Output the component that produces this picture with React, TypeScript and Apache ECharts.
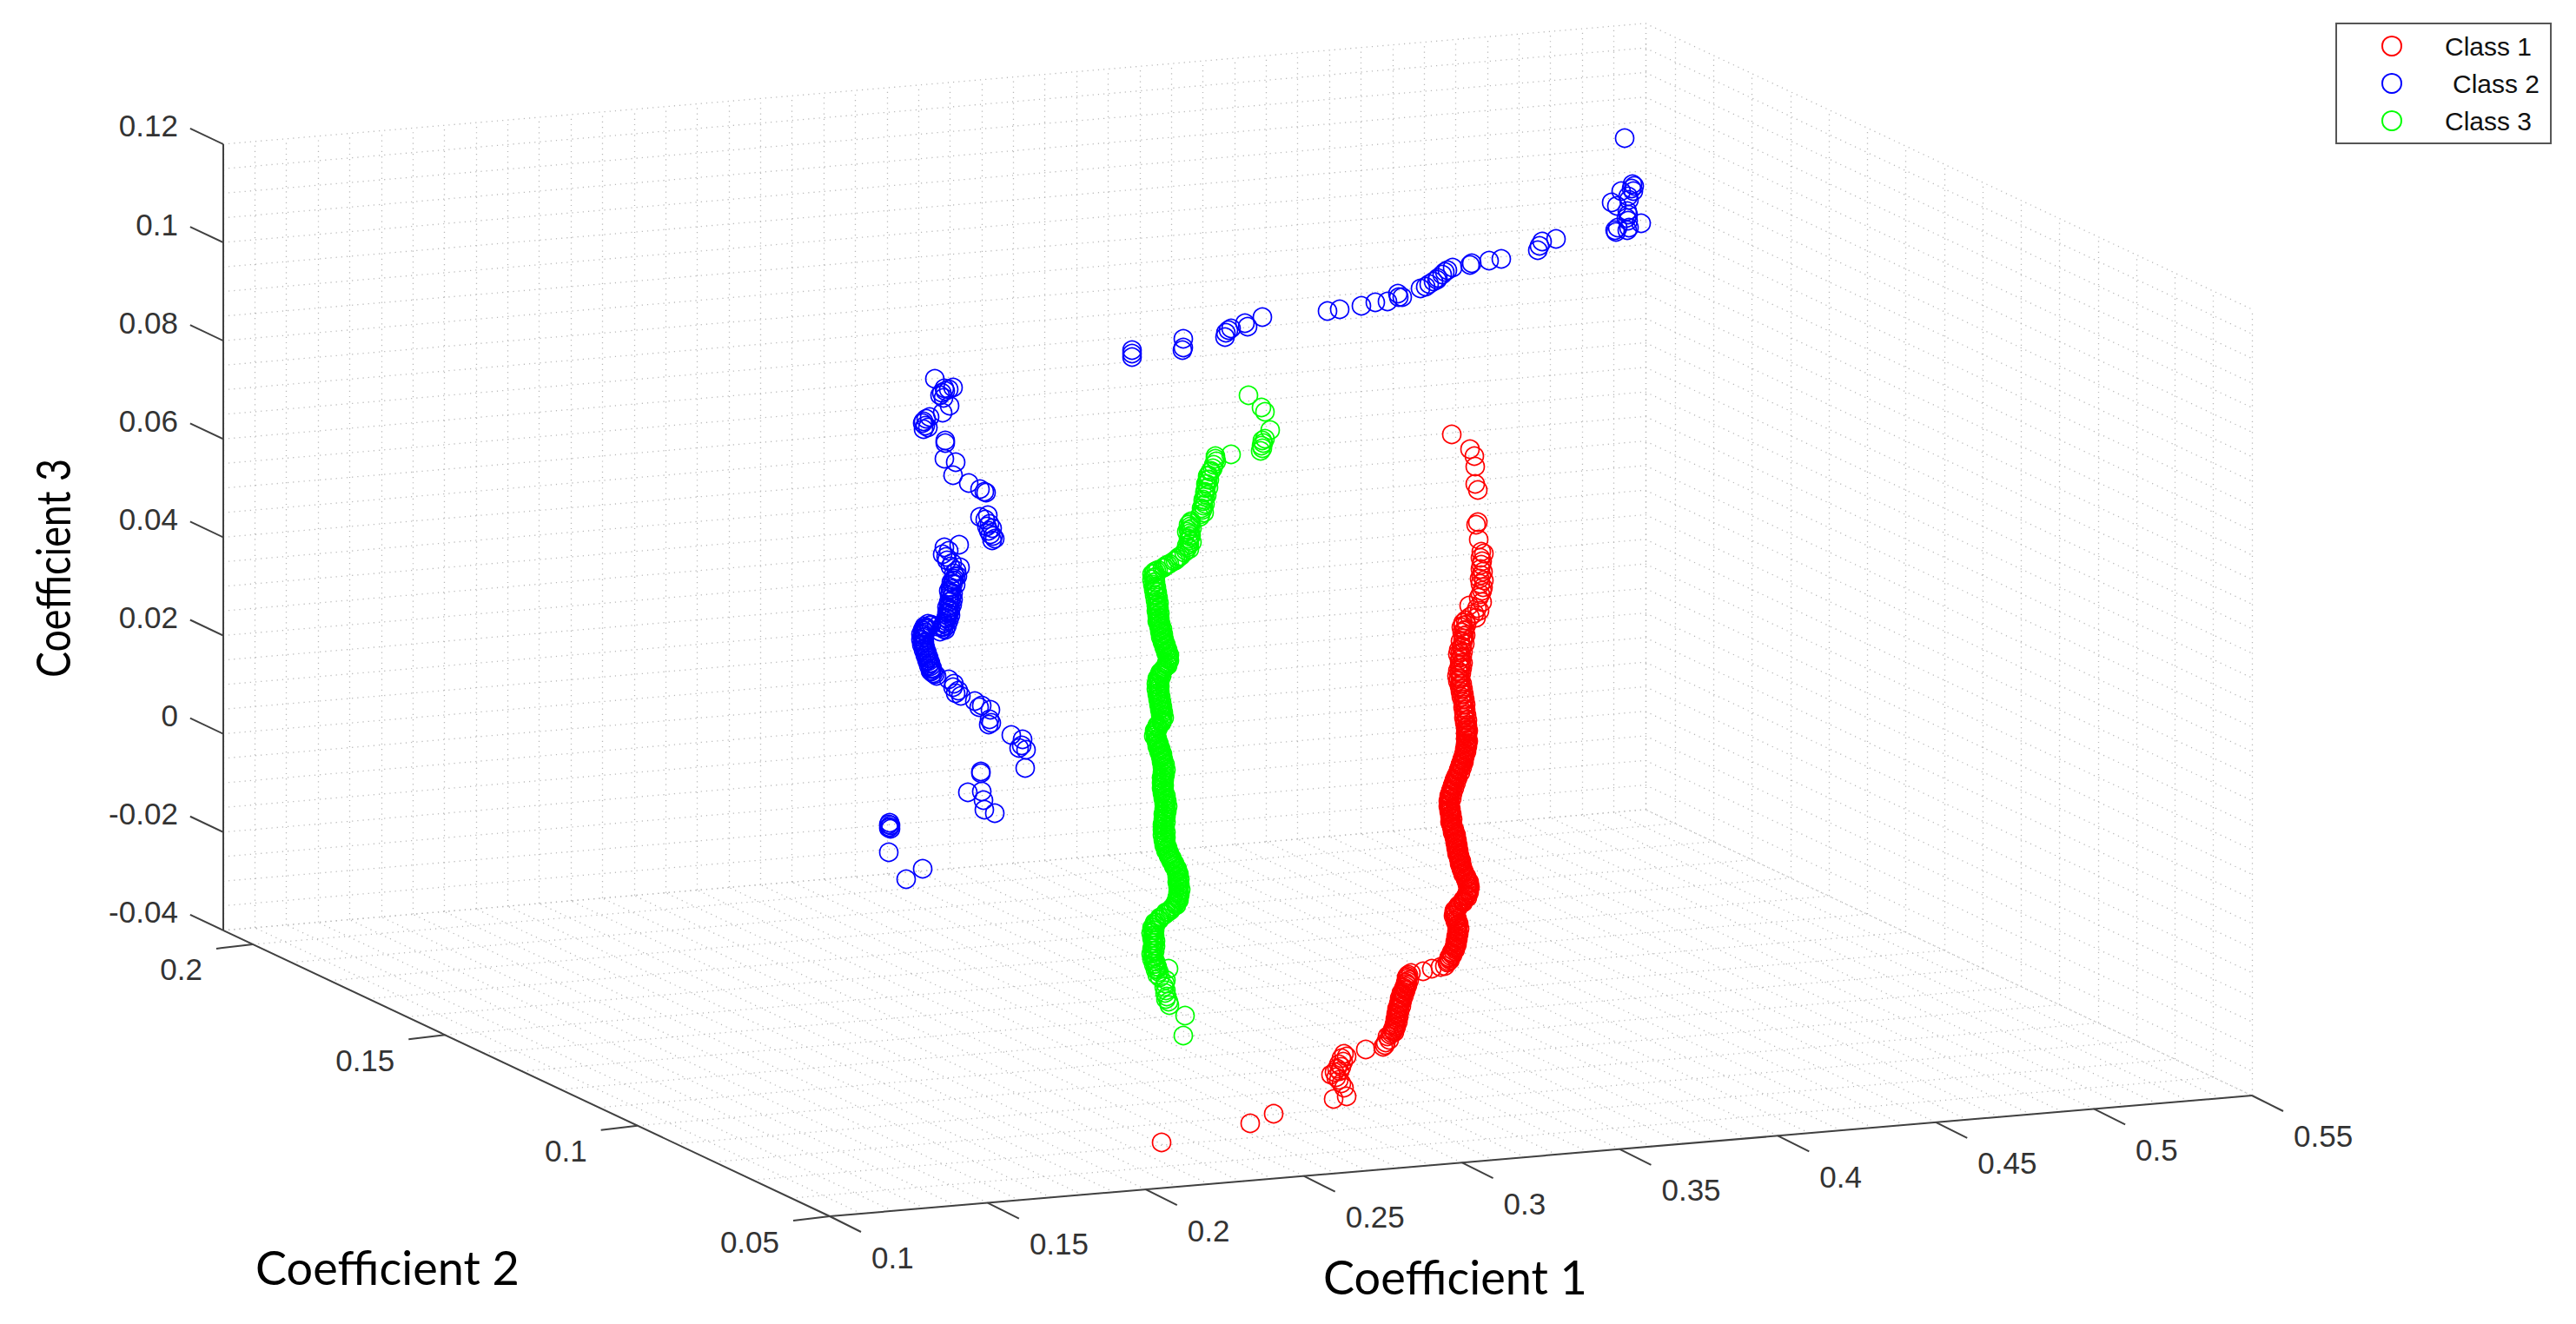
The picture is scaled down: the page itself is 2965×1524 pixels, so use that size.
import React, { useEffect, useRef } from "react";
import * as echarts from "echarts";

// Axis tick values of the three coefficients
const coef1Ticks = [0.1, 0.15, 0.2, 0.25, 0.3, 0.35, 0.4, 0.45, 0.5, 0.55];
const coef2Ticks = [0.05, 0.1, 0.15, 0.2];
const coef3Ticks = [-0.04, -0.02, 0, 0.02, 0.04, 0.06, 0.08, 0.1, 0.12];
const coefNames = ["Coefficient 1", "Coefficient 2", "Coefficient 3"];
const classNames = ["Class 1", "Class 2", "Class 3"];

// Points, in the view plane of the 3-D projection
const class1Points = [
  [1671,500],[1692,517],[1697,525],[1698,537],[1698,557],[1701,564],[1701,601],[1699,604],[1702,621],[1705,635],[1708,637],[1704,642],[1706,646],[1705,650],[1704,655],[1707,658],[1705,662],[1703,666],[1708,668],[1704,672],[1707,676],[1706,680],[1704,684],[1702,688],[1691,697],[1706,693],[1700,700],[1703,703],[1697,706],[1692,710],[1699,711],[1687,714],
  [1684,717],[1688,719],[1682,722],[1686,725],[1683,728],[1687,731],[1684,735],[1681,738],[1686,741],[1683,744],[1679,748],[1684,750],[1678,753],[1683,756],[1680,760],[1684,763],[1680,766],[1683,769],[1678,772],[1682,775],[1677,778],[1681,781],[1678,784],[1683,787],[1680,790],[1684,793],[1681,796],[1685,799],[1682,802],[1686,805],[1684,808],[1687,811],[1684,814],[1687,817],[1685,820],[1688,823],[1685,826],[1689,829],[1686,832],
  [1689,835],[1687,838],[1690,841],[1687,844],[1689,847],[1687,850],[1690,853],[1687,856],[1689,859],[1686,862],[1688,865],[1685,868],[1686,871],[1683,874],[1685,877],[1681,880],[1683,883],[1679,886],[1681,889],[1677,892],[1678,895],[1674,898],[1676,901],[1672,904],[1674,907],[1670,910],[1672,913],[1668,916],[1671,919],[1667,922],[1669,925],[1667,928],[1670,931],[1668,934],[1671,937],[1669,940],[1672,943],[1669,946],[1672,949],[1671,952],[1674,955],[1672,958],[1676,961],[1674,964],[1677,967],[1675,970],[1678,973],[1676,976],[1679,979],[1677,982],[1680,985],[1679,988],[1682,991],[1680,994],[1683,997],[1682,1000],[1685,1003],[1684,1006],[1688,1009],[1687,1012],[1691,1015],[1689,1018],[1692,1021],[1690,1024],[1691,1027],[1688,1030],[1689,1033],[1684,1036],[1684,1039],[1679,1042],[1678,1045],[1674,1048],[1675,1051],[1673,1054],[1677,1057],[1675,1060],[1679,1063],[1677,1066],[1680,1069],[1677,1072],[1679,1075],[1676,1078],[1678,1081],[1675,1084],[1677,1087],[1674,1090],[1675,1093],[1671,1096],[1672,1099],[1668,1102],[1669,1105],[1666,1108],
  [1663,1112],[1658,1113],[1648,1115],[1638,1118],[1624,1120],[1621,1122],[1619,1125],[1622,1128],[1618,1131],[1620,1134],[1616,1137],[1618,1140],[1613,1143],[1616,1146],[1611,1149],[1614,1152],[1610,1155],[1613,1158],[1608,1161],[1611,1164],[1607,1167],[1610,1170],[1606,1173],[1609,1176],[1605,1179],[1607,1182],[1603,1185],[1605,1188],[1600,1191],[1597,1193],[1599,1197],[1595,1200],[1594,1203],[1592,1205],
  [1572,1208],[1547,1213],[1550,1216],[1544,1218],[1546,1222],[1541,1225],[1539,1230],[1544,1228],[1532,1237],[1536,1234],[1542,1233],[1538,1240],[1541,1243],[1544,1247],[1547,1252],[1550,1262],[1535,1265],[1466,1282],[1439,1293],[1337,1315],
];
const class1DensePoints = [
  [1684,720],[1685,726],[1685,732],[1684,738],[1682,745],[1681,751],[1681,757],[1682,763],[1681,769],[1680,775],[1679,781],[1681,787],[1682,793],[1683,799],[1684,805],[1685,811],[1686,817],[1686,823],[1687,829],
  [1688,836.5],[1689,839.5],[1688,842.5],[1688,845.5],[1688,848.5],[1689,851.5],[1688,854.5],[1688,857.5],[1688,860.5],[1687,863.5],[1686,866.5],[1685,869.5],[1684,872.5],[1684,875.5],[1682,878.5],[1681,881.5],[1680,884.5],[1679,887.5],[1678,890.5],[1676,893.5],[1675,896.5],[1674,899.5],[1673,902.5],[1672,905.5],[1671,908.5],[1670,911.5],[1669,914.5],[1669,917.5],[1668,920.5],[1668,923.5],[1668,926.5],[1669,929.5],
  [1669,932.5],[1669,935.5],[1670,938.5],[1670,941.5],[1670,944.5],[1670,947.5],[1671,950.5],[1672,953.5],[1673,956.5],[1674,959.5],[1675,962.5],[1675,965.5],[1676,968.5],[1676,971.5],[1677,974.5],[1677,977.5],[1678,980.5],[1678,983.5],[1679,986.5],[1680,989.5],[1681,992.5],[1681,995.5],[1682,998.5],[1683,1001.5],[1684,1004.5],[1686,1007.5],[1687,1010.5],[1689,1013.5],[1690,1016.5],[1690,1019.5],[1691,1022.5],[1690,1025.5],[1689,1028.5],[1688,1031.5],[1686,1034.5],[1684,1037.5],[1681,1040.5],[1678,1043.5],[1676,1046.5],[1674,1049.5],[1674,1052.5],[1675,1055.5],[1676,1058.5],[1677,1061.5],[1678,1064.5],[1678,1067.5],[1678,1070.5],[1678,1073.5],[1677,1076.5],[1677,1079.5],[1676,1082.5],[1676,1085.5],[1675,1088.5],[1674,1091.5],[1673,1094.5],[1671,1097.5],[1670,1100.5],[1668,1103.5],[1667,1106.5],
  [1620,1123.5],[1620,1126.5],[1620,1129.5],[1619,1132.5],[1618,1135.5],[1617,1138.5],[1615,1141.5],[1614,1144.5],[1613,1147.5],[1612,1150.5],[1612,1153.5],[1611,1156.5],[1610,1159.5],[1609,1162.5],[1609,1165.5],[1608,1168.5],[1608,1171.5],[1607,1174.5],[1607,1177.5],[1606,1180.5],[1605,1183.5],[1604,1186.5],[1602,1189.5],
];

const class2Points = [
  [1870,159],[1879,212],[1881,214],[1878,217],[1880,220],[1866,220],[1874,226],[1855,233],[1861,237],[1875,230],[1873,243],[1874,247],[1872,251],[1874,254],[1889,257],[1859,265],[1862,262],[1875,262],[1873,265],[1860,267],
  [1791,275],[1775,278],[1772,283],[1770,288],[1728,298],[1714,300],[1694,303],[1692,305],[1672,308],[1666,311],[1663,313],[1660,316],[1655,320],[1654,322],[1650,324],[1645,327],[1641,330],[1635,332],[1614,342],[1609,338],[1610,342],[1597,347],[1583,348],[1567,352],[1542,356],[1528,358],
  [1453,365],[1433,372],[1436,376],[1417,378],[1411,383],[1414,380],[1410,388],[1362,390],[1362,400],[1361,403],[1303,403],[1303,407],[1303,411],
  [1076,436],[1097,446],[1087,447],[1092,448],[1088,450],[1084,452],[1082,455],[1086,458],[1093,467],[1085,475],[1070,480],[1066,482],[1063,485],[1062,487],[1065,490],[1068,492],[1063,494],
  [1088,507],[1088,510],[1087,528],[1100,532],[1097,547],[1115,556],[1128,563],[1133,566],[1135,567],
  [1128,595],[1137,593],[1134,598],[1139,603],[1136,606],[1142,608],[1138,611],[1140,615],[1143,617],[1145,620],[1142,622],
  [1104,627],[1087,630],[1092,634],[1085,638],[1089,641],[1090,645],[1096,648],[1094,652],[1105,653],[1101,657],[1098,660],[1102,663],[1098,666],[1095,670],[1100,673],[1094,676],[1092,680],[1097,683],[1093,686],[1097,690],[1092,693],[1096,696],[1090,699],[1094,702],[1090,705],[1094,708],[1089,711],[1092,714],[1087,717],[1090,720],[1085,722],[1088,725],[1082,727],[1078,721],[1072,719],[1068,718],[1064,721],[1067,724],[1062,725],[1065,728],[1060,730],[1064,733],[1060,736],[1064,739],[1061,742],[1065,745],[1063,748],[1067,751],[1065,754],[1069,757],[1067,760],[1071,763],[1069,766],[1073,769],[1071,772],[1074,775],[1078,778],
  [1092,782],[1098,787],[1097,791],[1103,795],[1100,798],[1106,801],[1122,807],[1130,812],[1127,814],[1140,817],[1139,828],[1141,832],[1138,834],
  [1164,846],[1177,851],[1173,861],[1176,858],[1181,863],[1180,884],[1129,888],[1129,890],[1114,912],[1130,911],[1132,921],[1133,932],[1145,936],
  [1024,947],[1023,949],[1025,950],[1024,952],[1023,953],[1025,954],[1023,981],[1062,1000],[1043,1012],
];
const class2DensePoints = [
  [1093,697],[1092,700],[1092,703],[1092,706],[1091,709],[1090,712],[1089,715],[1086,718],[1070,720],[1066,722],[1064,723],[1063,726],[1062,729],[1062,731],[1062,734],[1062,737],[1062,740],[1063,743],[1064,746],[1065,749],[1066,752],[1067,755],[1068,758],[1069,761],[1070,764],[1071,767],[1072,770],[1072,773],[1076,776],[1085,721],[1086,724],[1100,664],[1097,668],[1097,672],[1095,678],[1094,682],[1095,688],[1094,692],
];

const class3Points = [
  [1437,455],[1452,469],[1456,474],[1462,495],[1456,505],[1453,507],[1454,510],[1452,513],[1453,516],[1451,519],[1417,523],[1399,525],[1399,528],[1400,531],[1397,535],[1396,539],[1393,543],[1390,548],[1392,552],[1388,557],[1391,561],[1387,566],[1389,570],[1385,575],[1387,580],[1383,585],[1386,590],[1381,595],[1371,600],[1368,604],[1372,608],[1366,612],[1371,616],[1368,620],[1372,624],[1366,628],[1369,632],[1363,636],[1359,640],[1355,643],[1351,646],[1346,649],[1342,651],[1338,654],[1333,656],[1329,658],[1326,661],[1330,664],[1326,667],[1330,670],[1327,673],[1331,676],[1328,679],[1332,682],[1329,685],[1333,688],
  [1330,691],[1334,694],[1331,697],[1334,700],[1331,703],[1335,706],[1332,709],[1335,712],[1332,715],[1336,718],[1334,721],[1338,724],[1335,727],[1339,730],[1336,733],[1340,736],[1338,739],[1342,742],[1340,745],[1344,748],[1342,751],[1346,754],[1344,757],[1346,760],[1343,763],[1344,766],[1340,769],[1338,772],[1335,775],[1337,778],[1332,781],[1335,784],[1331,787],[1335,790],[1331,793],[1335,796],[1332,799],[1336,802],[1333,805],[1337,808],[1334,811],[1338,814],[1335,817],[1339,820],[1336,823],[1340,826],[1337,829],[1337,832],[1332,835],[1333,838],[1329,841],[1331,844],[1328,847],[1332,850],[1331,853],[1334,856],[1332,859],[1336,862],[1334,865],[1338,868],[1336,871],[1339,874],[1337,877],[1341,880],[1338,883],[1342,886],[1338,889],[1341,892],[1337,895],[1340,898],[1337,901],[1340,904],[1337,907],[1340,910],[1338,913],[1342,916],[1339,919],[1343,922],[1340,925],[1344,928],[1340,931],[1343,934],[1339,937],[1342,940],[1339,943],[1342,946],[1338,949],[1341,952],[1338,955],[1342,958],[1338,961],[1342,964],[1339,967],[1342,970],[1340,973],[1344,976],[1342,979],[1346,982],[1345,985],[1349,988],[1348,991],[1352,994],[1351,997],[1355,1000],[1354,1003],[1357,1006],[1355,1009],[1358,1012],[1355,1015],[1358,1018],[1356,1021],[1359,1024],[1356,1027],[1358,1030],[1355,1033],[1357,1036],[1353,1039],[1354,1042],[1349,1045],[1347,1048],[1342,1050],[1340,1053],[1335,1056],[1334,1059],[1329,1062],[1330,1065],[1326,1068],[1329,1071],[1325,1074],[1329,1077],[1326,1080],[1330,1083],[1327,1086],[1330,1089],[1326,1092],[1329,1095],[1325,1098],[1328,1101],[1326,1104],[1330,1107],[1328,1110],[1332,1113],[1330,1116],[1334,1119],[1332,1122],[1335,1125],
  [1345,1115],[1342,1128],[1341,1132],[1340,1136],[1342,1140],[1341,1143],[1343,1147],[1342,1150],[1345,1153],[1346,1157],[1364,1169],[1362,1192],
];
const class3DensePoints = [
  [1394,542],[1391,547],[1390,552],[1389,557],[1388,562],[1387,567],[1387,572],[1385,577],[1385,582],[1384,587],[1382,592],[1370,602],[1370,606],[1368,610],[1369,614],[1370,618],[1369,622],[1369,626],[1367,630],[1365,634],[1357,641],[1353,645],[1344,650],[1340,653],[1331,657],[1328,660],[1328,665],[1329,670],[1329,675],[1330,680],[1331,685],
  [1332,692.5],[1332,695.5],[1332,698.5],[1332,701.5],[1333,704.5],[1333,707.5],[1333,710.5],[1333,713.5],[1334,716.5],[1335,719.5],[1336,722.5],[1336,725.5],[1337,728.5],[1337,731.5],[1338,734.5],[1339,737.5],[1340,740.5],[1341,743.5],[1342,746.5],[1343,749.5],[1344,752.5],[1345,755.5],[1345,758.5],[1344,761.5],[1343,764.5],[1342,767.5],[1339,770.5],[1336,773.5],[1336,776.5],[1334,779.5],[1333,782.5],[1333,785.5],[1333,788.5],[1333,791.5],[1333,794.5],[1333,797.5],[1334,800.5],[1334,803.5],[1335,806.5],[1335,809.5],[1336,812.5],[1336,815.5],[1337,818.5],[1337,821.5],[1338,824.5],[1338,827.5],[1337,830.5],[1334,833.5],[1332,836.5],[1331,839.5],[1330,842.5],[1330,845.5],[1330,848.5],[1331,851.5],[1332,854.5],[1333,857.5],[1334,860.5],[1335,863.5],[1336,866.5],[1337,869.5],[1337,872.5],[1338,875.5],[1339,878.5],[1339,881.5],[1340,884.5],[1340,887.5],[1339,890.5],[1339,893.5],[1338,896.5],[1338,899.5],[1338,902.5],[1338,905.5],[1338,908.5],[1339,911.5],[1340,914.5],[1340,917.5],[1341,920.5],[1341,923.5],[1342,926.5],[1342,929.5],[1341,932.5],[1341,935.5],[1340,938.5],[1340,941.5],[1340,944.5],[1339,947.5],[1339,950.5],[1339,953.5],[1340,956.5],[1340,959.5],[1340,962.5],[1340,965.5],[1340,968.5],[1341,971.5],[1342,974.5],[1343,977.5],[1344,980.5],[1345,983.5],[1347,986.5],[1348,989.5],[1350,992.5],[1351,995.5],[1353,998.5],[1354,1001.5],[1355,1004.5],[1356,1007.5],[1356,1010.5],[1356,1013.5],[1356,1016.5],[1357,1019.5],[1357,1022.5],[1357,1025.5],[1357,1028.5],[1356,1031.5],[1356,1034.5],[1355,1037.5],[1353,1040.5],[1351,1043.5],[1348,1046.5],[1345,1049.5],[1341,1052.5],[1337,1055.5],[1334,1058.5],[1331,1061.5],[1329,1064.5],[1328,1067.5],[1327,1070.5],[1327,1073.5],[1327,1076.5],[1328,1079.5],[1328,1082.5],[1328,1085.5],[1328,1088.5],[1327,1091.5],[1327,1094.5],[1327,1097.5],[1327,1100.5],[1328,1103.5],[1329,1106.5],[1330,1109.5],[1331,1112.5],[1332,1115.5],
];

// Orthographic projection of the axes box, in the same view plane
const ORIGIN = [955, 1400];
const C1_VEC = [3637.8, -308.9];
const C2_VEC = [-4427, -2087];
const C3_VEC = [0, -5656];
const C2_MAX = 0.2077;
const project = (c1: number, c2: number, c3: number): number[] => [
  ORIGIN[0] + (c1 - 0.1) * C1_VEC[0] + (c2 - 0.05) * C2_VEC[0] + (c3 + 0.04) * C3_VEC[0],
  ORIGIN[1] + (c1 - 0.1) * C1_VEC[1] + (c2 - 0.05) * C2_VEC[1] + (c3 + 0.04) * C3_VEC[1],
];

function buildGrid(): any[] {
  const segs: any[] = [];
  const add = (a: number[], b: number[]) => segs.push({ coords: [a, b] });
  const c1s: number[] = [];
  for (let i = 0; i <= 45; i++) c1s.push(0.1 + i * 0.01);
  const c2s: number[] = [];
  for (let i = 0; i <= 15; i++) c2s.push(0.05 + i * 0.01);
  c2s.push(C2_MAX);
  const c3s: number[] = [];
  for (let i = 0; i <= 32; i++) c3s.push(-0.04 + i * 0.005);
  c1s.forEach((c) => {
    add(project(c, 0.05, -0.04), project(c, C2_MAX, -0.04));
    add(project(c, C2_MAX, -0.04), project(c, C2_MAX, 0.12));
  });
  c2s.forEach((c) => {
    add(project(0.1, c, -0.04), project(0.55, c, -0.04));
    add(project(0.55, c, -0.04), project(0.55, c, 0.12));
  });
  c3s.forEach((c) => {
    add(project(0.1, C2_MAX, c), project(0.55, C2_MAX, c));
    add(project(0.55, C2_MAX, c), project(0.55, 0.05, c));
  });
  return segs;
}

function buildAxes(): any[] {
  const segs: any[] = [];
  const add = (a: number[], b: number[]) => segs.push({ coords: [a, b] });
  add(project(0.1, C2_MAX, -0.04), project(0.1, C2_MAX, 0.12));
  add(project(0.1, C2_MAX, -0.04), project(0.1, 0.05, -0.04));
  add(project(0.1, 0.05, -0.04), project(0.55, 0.05, -0.04));
  coef1Ticks.forEach((v) => {
    const p = project(v, 0.05, -0.04);
    add(p, [p[0] + 36, p[1] + 18]);
  });
  coef2Ticks.forEach((v) => {
    const p = project(0.1, v, -0.04);
    add(p, [p[0] - 42, p[1] + 5]);
  });
  coef3Ticks.forEach((v) => {
    const p = project(0.1, C2_MAX, v);
    add(p, [p[0] - 38, p[1] - 18]);
  });
  return segs;
}

function buildTexts(): any[] {
  const tickFont = '35px "Liberation Sans", Arial, sans-serif';
  const titleFont = '54px Lato, sans-serif';
  const t: any[] = [];
  const add = (text: string, x: number, y: number, align: string) =>
    t.push({
      type: "text",
      x,
      y,
      silent: true,
      style: { text, x: 0, y: 0, align, verticalAlign: "middle", font: tickFont, fill: "#333333" },
    });
  coef1Ticks.forEach((v) => {
    const p = project(v, 0.05, -0.04);
    add(String(v), p[0] + 48, p[1] + 47, "left");
  });
  coef2Ticks.forEach((v) => {
    const p = project(0.1, v, -0.04);
    add(String(v), p[0] - 58, p[1] + 29, "right");
  });
  coef3Ticks.forEach((v) => {
    const p = project(0.1, C2_MAX, v);
    add(String(v), p[0] - 52, p[1] - 21, "right");
  });
  const title = (text: string, x: number, y: number, rotation: number, sx: number, sy: number) =>
    t.push({
      type: "text",
      x,
      y,
      rotation,
      scaleX: sx,
      scaleY: sy,
      silent: true,
      style: { text, x: 0, y: 0, align: "center", verticalAlign: "middle", font: titleFont, fill: "#000000" },
    });
  title(coefNames[0], 1675, 1469, 0, 1, 1);
  title(coefNames[1], 446, 1458, 0, 1, 1);
  title(coefNames[2], 60, 654, Math.PI / 2, 0.83, 1);
  return t;
}

const ringSeries = (name: string, data: number[][], color: string) => ({
  name,
  type: "scatter",
  data,
  symbol: "circle",
  symbolSize: 21,
  silent: true,
  z: 5,
  itemStyle: { color: "rgba(0,0,0,0)", borderColor: color, borderWidth: 1.7, opacity: 1 },
});

export default function App() {
  const ref = useRef<HTMLDivElement>(null);
  useEffect(() => {
    const chart = echarts.init(ref.current!, undefined, { renderer: "svg" });
    chart.setOption({
      animation: false,
      backgroundColor: "#ffffff",
      grid: { left: 0, right: 0, top: 0, bottom: 0 },
      xAxis: { type: "value", min: 0, max: 2965, show: false },
      yAxis: { type: "value", min: 0, max: 1524, inverse: true, show: false },
      legend: {
        show: true,
        left: 2689,
        top: 27,
        orient: "vertical",
        align: "left",
        padding: [11, 13, 11, 52],
        itemGap: 13,
        itemWidth: 22,
        itemHeight: 22,
        borderColor: "#555555",
        borderWidth: 2,
        backgroundColor: "#ffffff",
        selectedMode: false,
        textStyle: { fontFamily: '"Liberation Sans", Arial, sans-serif', fontSize: 30, color: "#111111", padding: [0, 0, 0, 45] },
        data: [
          { name: classNames[0] },
          { name: classNames[1], textStyle: { padding: [0, 0, 0, 54] } },
          { name: classNames[2] },
        ],
      },
      graphic: buildTexts(),
      series: [
        {
          name: "grid",
          type: "lines",
          coordinateSystem: "cartesian2d",
          silent: true,
          z: 1,
          lineStyle: { color: "#b8b8b8", width: 1.3, type: [1.2, 5], opacity: 1, curveness: 0 },
          data: buildGrid(),
        },
        {
          name: "axes",
          type: "lines",
          coordinateSystem: "cartesian2d",
          silent: true,
          z: 2,
          lineStyle: { color: "#404040", width: 2, opacity: 1, curveness: 0 },
          data: buildAxes(),
        },
        ringSeries(classNames[0], class1Points.concat(class1DensePoints), "#ff0000"),
        ringSeries(classNames[1], class2Points.concat(class2DensePoints), "#0000ff"),
        ringSeries(classNames[2], class3Points.concat(class3DensePoints), "#00ff00"),
      ],
    });
    return () => chart.dispose();
  }, []);
  return <div ref={ref} style={{ position: "absolute", left: 0, top: 0, width: 2965, height: 1524 }} />;
}
